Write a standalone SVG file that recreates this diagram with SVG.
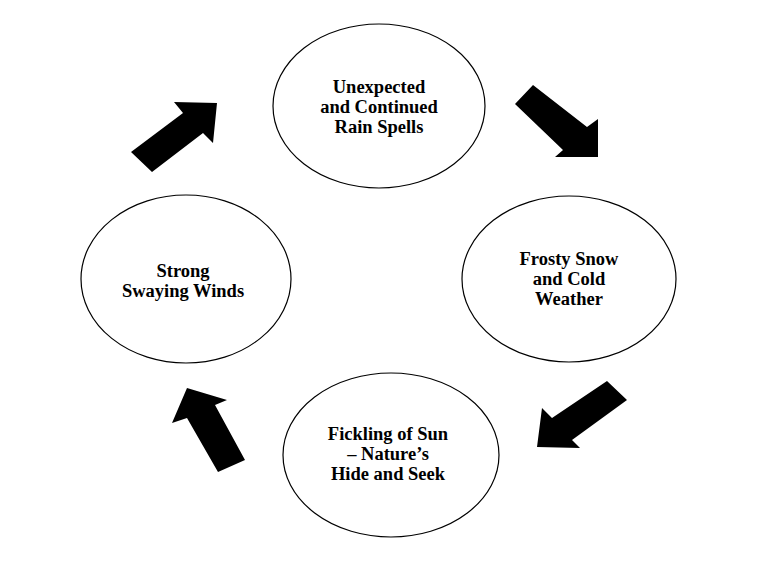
<svg xmlns="http://www.w3.org/2000/svg" width="760" height="562" viewBox="0 0 760 562">
<style>
.node ellipse{fill:#fff;stroke:#000;stroke-width:1.2}
.node text{font-family:"Liberation Serif","Times New Roman",serif;font-weight:bold;font-size:18.5px;fill:#000;text-anchor:middle}
.arrow{fill:#000;stroke:none}
</style>
<rect width="760" height="562" fill="#fff"/>
<g id="node-rain" class="node">
<ellipse cx="379" cy="106" rx="106" ry="82"/>
<text x="379" y="93">Unexpected</text>
<text x="379" y="113">and Continued</text>
<text x="379" y="133">Rain Spells</text>
</g>
<g id="node-snow" class="node">
<ellipse cx="569" cy="279" rx="107" ry="83"/>
<text x="569" y="265">Frosty Snow</text>
<text x="569" y="285">and Cold</text>
<text x="569" y="305">Weather</text>
</g>
<g id="node-sun" class="node">
<ellipse cx="391" cy="455" rx="108" ry="82"/>
<text x="388" y="440">Fickling of Sun</text>
<text x="388" y="460">– Nature’s</text>
<text x="388" y="480">Hide and Seek</text>
</g>
<g id="node-winds" class="node">
<ellipse cx="186" cy="279" rx="105" ry="84"/>
<text x="183" y="277">Strong</text>
<text x="183" y="297">Swaying Winds</text>
</g>
<g id="connectors">
<polygon class="arrow" points="131,152 183,113 174,102 217,103 213,143 203,133 152,172"/>
<polygon class="arrow" points="533,85 587,127 598,119 598,157 555,157 563,150 515,104"/>
<polygon class="arrow" points="607,381 552,418 542,408 537,447 580,448 572,440 627,400"/>
<polygon class="arrow" points="187,388 227,400 215,405 245,460 218,472 187,418 172,423"/>
</g>
</svg>
